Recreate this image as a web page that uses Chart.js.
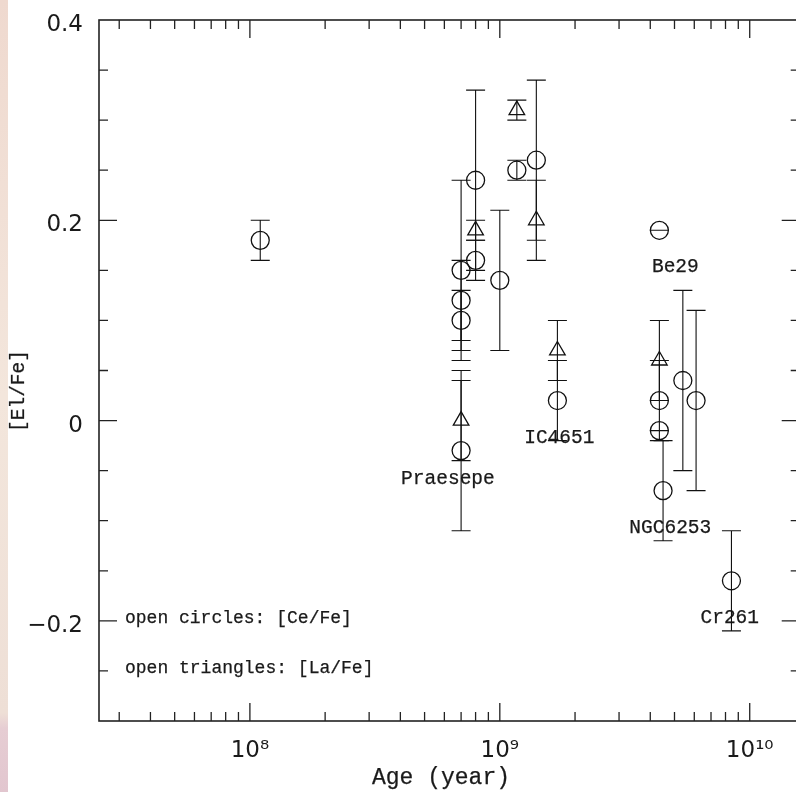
<!DOCTYPE html>
<html>
<head>
<meta charset="utf-8">
<script src="https://cdn.jsdelivr.net/npm/chart.js@4/dist/chart.umd.min.js"></script>
<style>
  html, body { margin: 0; padding: 0; background: #fff; }
  canvas { display: block; }
</style>
</head>
<body>
<canvas id="chart" width="796" height="792"></canvas>
<script>
// [Ce/Fe] - open circles
const ceAge = [1.1e8, 7e8, 7e8, 7e8, 7e8, 8e8, 8e8, 1e9, 1.17e9, 1.4e9, 1.7e9, 4.35e9, 4.35e9, 4.35e9, 4.5e9, 5.4e9, 6.1e9, 8.45e9];
const ceVal = [0.18, 0.15, 0.12, 0.10, -0.03, 0.24, 0.16, 0.14, 0.25, 0.26, 0.02, 0.19, 0.02, -0.01, -0.07, 0.04, 0.02, -0.16];
const ceErr = [0.02, 0.09, 0.04, 0.03, 0.08, 0.09, 0.02, 0.07, 0.01, 0.08, 0.04, 0.00, 0.04, 0.00, 0.05, 0.09, 0.09, 0.05];

// [La/Fe] - open triangles
const laAge = [7e8, 8e8, 1.17e9, 1.4e9, 1.7e9, 4.35e9];
const laVal = [0.00, 0.19, 0.31, 0.20, 0.07, 0.06];
const laErr = [0.04, 0.01, 0.01, 0.04, 0.03, 0.04];

// cluster names (anchored in data units)
const labelNames = ["Praesepe", "IC4651", "Be29", "NGC6253", "Cr261"];
const labelAges = [6.2e8, 1.73e9, 5.04e9, 4.81e9, 8.32e9];
const labelVals = [-0.063, -0.022, 0.148, -0.112, -0.202];

const xTickValues = [1e8, 1e9, 1e10];
const xTickLabels = ["10\u2078", "10\u2079", "10\u00B9\u2070"];
const yTickValues = [-0.2, 0, 0.2, 0.4];
const yTickLabels = ["\u22120.2", "0", "0.2", "0.4"];

const noteLines = ["open circles: [Ce/Fe]", "open triangles: [La/Fe]"];

// x limits: visible range, and where the (cropped) right axis sits
const xMin = 2.49e7, xMax = 1.393e10, xRightAxis = 1.585e10;

const MONO = "'Liberation Mono', 'Courier New', monospace";
const SANS = "'DejaVu Sans', sans-serif";

// mono text drawn with a hairline stroke so it reads as heavy as the original
function monoText(c, t, x, y) {
  c.fillText(t, x, y);
  c.strokeText(t, x, y);
}

// white page + the pinkish strip on the left edge
const backdrop = {
  id: "backdrop",
  beforeDraw(chart) {
    const c = chart.ctx;
    c.save();
    c.fillStyle = "#fff";
    c.fillRect(0, 0, chart.width, chart.height);
    const g = c.createLinearGradient(0, 0, 0, chart.height);
    g.addColorStop(0, "#efd9cf");
    g.addColorStop(0.5, "#f3e6dc");
    g.addColorStop(0.9, "#eedfd6");
    g.addColorStop(0.92, "#e6cdd3");
    g.addColorStop(1, "#e2c6cf");
    c.fillStyle = g;
    c.fillRect(0, 0, 8, chart.height);
    c.restore();
  }
};

// cluster labels + error bars
const errorBars = {
  id: "errorBars",
  beforeDatasetsDraw(chart) {
    const c = chart.ctx, xs = chart.scales.x, ys = chart.scales.y;
    c.save();
    c.fillStyle = "#1a1a1a";
    c.strokeStyle = "#1a1a1a";
    c.lineWidth = 0.25;
    c.font = "19.5px " + MONO;
    c.textAlign = "center";
    c.textBaseline = "alphabetic";
    labelNames.forEach((t, i) => {
      monoText(c, t, xs.getPixelForValue(labelAges[i]), ys.getPixelForValue(labelVals[i]));
    });

    c.strokeStyle = "#111";
    c.lineWidth = 1.1;
    chart.data.datasets.forEach(ds => {
      ds.data.forEach((p, i) => {
        const e = ds.errs[i];
        const px = xs.getPixelForValue(p.x);
        const y1 = ys.getPixelForValue(p.y + e);
        const y2 = ys.getPixelForValue(p.y - e);
        c.beginPath();
        c.moveTo(px, y1); c.lineTo(px, y2);
        c.moveTo(px - 9.5, y1); c.lineTo(px + 9.5, y1);
        c.moveTo(px - 9.5, y2); c.lineTo(px + 9.5, y2);
        c.stroke();
      });
    });
    c.restore();
  }
};

// box, inward ticks on all four sides, tick labels, axis titles, note text
const frame = {
  id: "frame",
  afterDraw(chart) {
    const c = chart.ctx, xs = chart.scales.x, ys = chart.scales.y, a = chart.chartArea;
    const L = a.left, T = a.top, B = a.bottom;
    const R = xs.getPixelForValue(xRightAxis);
    c.save();
    c.strokeStyle = "#222";
    c.lineWidth = 1.3;
    c.beginPath();
    for (let e = 7; e <= 10; e++) {
      for (let m = 1; m <= 9; m++) {
        const v = m * Math.pow(10, e);
        if (v < xMin || v > xRightAxis) continue;
        const px = xs.getPixelForValue(v);
        const len = m === 1 ? 18 : 9;
        c.moveTo(px, B); c.lineTo(px, B - len);
        c.moveTo(px, T); c.lineTo(px, T + len);
      }
    }
    for (let k = -5; k <= 7; k++) {
      const py = ys.getPixelForValue(k * 0.05);
      const len = k % 4 === 0 ? 18 : 9;
      c.moveTo(L, py); c.lineTo(L + len, py);
      c.moveTo(R, py); c.lineTo(R - len, py);
    }
    c.stroke();

    c.lineWidth = 1.6;
    c.strokeRect(L, T, R - L, B - T);

    // tick labels
    c.fillStyle = "#1a1a1a";
    c.font = "23px " + SANS;
    c.textBaseline = "alphabetic";
    c.textAlign = "right";
    yTickValues.forEach((v, i) => c.fillText(yTickLabels[i], L - 16, ys.getPixelForValue(v) + 11));
    c.textAlign = "center";
    xTickValues.forEach((v, i) => c.fillText(xTickLabels[i], xs.getPixelForValue(v), B + 36));

    // axis titles
    c.fillStyle = "#1a1a1a";
    c.strokeStyle = "#1a1a1a";
    c.lineWidth = 0.25;
    c.font = "23px " + MONO;
    monoText(c, "Age (year)", 441, 784);
    c.save();
    c.translate(19, 391);
    c.rotate(-Math.PI / 2);
    c.font = "19.5px " + MONO;
    c.textBaseline = "middle";
    monoText(c, "[El/Fe]", 0, 0);
    c.restore();

    c.font = "18px " + MONO;
    c.textAlign = "left";
    noteLines.forEach((t, i) => monoText(c, t, L + 26, B - 98 + i * 50));
    c.restore();
  }
};

const ctx = document.getElementById("chart").getContext("2d");
new Chart(ctx, {
  type: "scatter",
  data: {
    datasets: [
      {
        label: "[Ce/Fe]",
        data: ceAge.map((x, i) => ({ x, y: ceVal[i] })),
        errs: ceErr,
        pointStyle: "circle",
        pointRadius: 9,
        borderColor: "#111",
        borderWidth: 1.3,
        backgroundColor: "rgba(0,0,0,0)"
      },
      {
        label: "[La/Fe]",
        data: laAge.map((x, i) => ({ x, y: laVal[i] })),
        errs: laErr,
        pointStyle: "triangle",
        pointRadius: 9,
        borderColor: "#111",
        borderWidth: 1.3,
        backgroundColor: "rgba(0,0,0,0)"
      }
    ]
  },
  options: {
    responsive: false,
    animation: false,
    events: [],
    layout: { padding: { top: 20, right: 0, left: 99, bottom: 71 } },
    plugins: { legend: { display: false }, tooltip: { enabled: false } },
    scales: {
      x: { type: "logarithmic", min: xMin, max: xMax, display: false },
      y: { min: -0.3, max: 0.4, display: false }
    }
  },
  plugins: [backdrop, errorBars, frame]
});
</script>
</body>
</html>
